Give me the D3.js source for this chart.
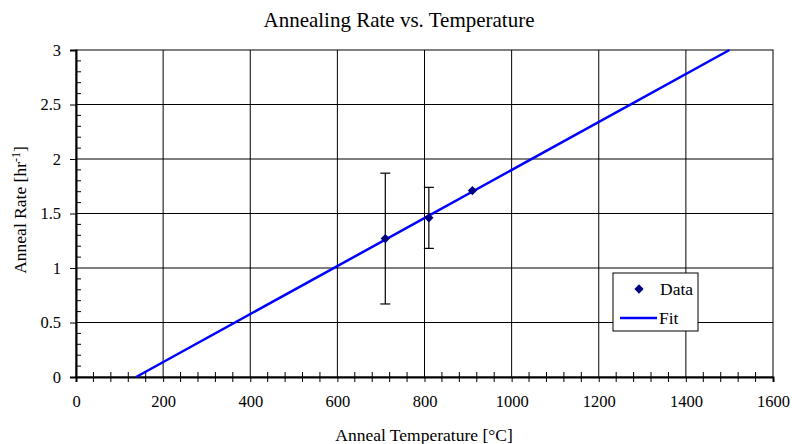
<!DOCTYPE html>
<html>
<head>
<meta charset="utf-8">
<script src="https://cdn.jsdelivr.net/npm/d3@7"></script>
<style>
  body { margin: 0; background: #fff; }
  svg { font-family: "Liberation Serif", "Times New Roman", serif; }
</style>
</head>
<body>
<svg id="chart"></svg>
<script>
// Data
const dataTemp = [710, 810, 910];
const dataRate = [1.27, 1.46, 1.71];
const errLow = [0.67, 1.18, null];
const errHigh = [1.87, 1.74, null];

const fitTemp = [138, 1500];
const fitRate = [0, 3];

const xTicks = [0, 200, 400, 600, 800, 1000, 1200, 1400, 1600];
const yTicks = [0, 0.5, 1, 1.5, 2, 2.5, 3];

const width = 792;
const height = 444;
const margin = { top: 50, right: 19, bottom: 67, left: 76 };
const chartWidth = width - margin.left - margin.right;
const chartHeight = height - margin.top - margin.bottom;

const svg = d3.select("#chart").attr("width", width).attr("height", height);

const chart = svg.append("g")
  .attr("transform", `translate(${margin.left},${margin.top})`);

const x = d3.scaleLinear().domain([0, 1600]).range([0, chartWidth]);
const y = d3.scaleLinear().domain([0, 3]).range([chartHeight, 0]);

// Gridlines
chart.append("g")
  .selectAll("line")
  .data(xTicks.slice(1, -1))
  .join("line")
  .attr("x1", d => x(d)).attr("x2", d => x(d))
  .attr("y1", 0).attr("y2", chartHeight)
  .attr("stroke", "#000").attr("stroke-width", 1);

chart.append("g")
  .selectAll("line")
  .data(yTicks.slice(1, -1))
  .join("line")
  .attr("x1", 0).attr("x2", chartWidth)
  .attr("y1", d => y(d)).attr("y2", d => y(d))
  .attr("stroke", "#000").attr("stroke-width", 1);

// Plot frame
chart.append("rect")
  .attr("x", 0).attr("y", 0)
  .attr("width", chartWidth).attr("height", chartHeight)
  .attr("fill", "none").attr("stroke", "#000").attr("stroke-width", 1);

// Minor ticks
const xMinor = d3.range(0, 1601, 40).filter(v => v % 200 !== 0);
chart.append("g")
  .selectAll("line")
  .data(xMinor)
  .join("line")
  .attr("x1", d => x(d)).attr("x2", d => x(d))
  .attr("y1", chartHeight - 5).attr("y2", chartHeight + 5)
  .attr("stroke", "#000");

const yMinor = d3.range(0, 31).map(v => v / 10).filter(v => Math.round(v * 10) % 5 !== 0);
chart.append("g")
  .selectAll("line")
  .data(yMinor)
  .join("line")
  .attr("x1", 0).attr("x2", 5)
  .attr("y1", d => y(d)).attr("y2", d => y(d))
  .attr("stroke", "#000");

// Axes
const xAxis = chart.append("g")
  .attr("transform", `translate(0,${chartHeight})`)
  .call(d3.axisBottom(x).tickValues(xTicks).tickSize(5).tickPadding(13).tickFormat(d3.format("d")));

const yAxis = chart.append("g")
  .call(d3.axisLeft(y).tickValues(yTicks).tickSize(6).tickPadding(9).tickFormat(d => String(d)));

[xAxis, yAxis].forEach(a => {
  a.select(".domain").attr("stroke", "#000").attr("stroke-width", 2);
  a.selectAll(".tick line").attr("stroke", "#000");
  a.selectAll(".tick text")
    .attr("font-family", "Liberation Serif, Times New Roman, serif")
    .attr("font-size", 16.5).attr("fill", "#000");
});

// Fit line
const line = d3.line()
  .x((d, i) => x(fitTemp[i]))
  .y(d => y(d));

chart.append("path")
  .datum(fitRate)
  .attr("fill", "none")
  .attr("stroke", "#0000ff")
  .attr("stroke-width", 2.5)
  .attr("d", line);

// Error bars
const errIdx = dataTemp.map((d, i) => i).filter(i => errLow[i] !== null);
const eb = chart.append("g").attr("stroke", "#000").attr("stroke-width", 1.2);
eb.selectAll("line.v")
  .data(errIdx).join("line").attr("class", "v")
  .attr("x1", i => x(dataTemp[i])).attr("x2", i => x(dataTemp[i]))
  .attr("y1", i => y(errLow[i])).attr("y2", i => y(errHigh[i]));
eb.selectAll("line.top")
  .data(errIdx).join("line").attr("class", "top")
  .attr("x1", i => x(dataTemp[i]) - 5).attr("x2", i => x(dataTemp[i]) + 5)
  .attr("y1", i => y(errHigh[i])).attr("y2", i => y(errHigh[i]));
eb.selectAll("line.bot")
  .data(errIdx).join("line").attr("class", "bot")
  .attr("x1", i => x(dataTemp[i]) - 5).attr("x2", i => x(dataTemp[i]) + 5)
  .attr("y1", i => y(errLow[i])).attr("y2", i => y(errLow[i]));

// Data points (diamonds)
const diamond = d3.symbol().type(d3.symbolDiamond2).size(55);
chart.append("g")
  .selectAll("path")
  .data(dataTemp)
  .join("path")
  .attr("transform", (d, i) => `translate(${x(d)},${y(dataRate[i])})`)
  .attr("d", diamond)
  .attr("fill", "#000080");

// Legend
const legend = svg.append("g").attr("transform", "translate(613,273)");
legend.append("rect")
  .attr("width", 85).attr("height", 58)
  .attr("fill", "#fff").attr("stroke", "#000").attr("stroke-width", 1);
legend.append("path")
  .attr("transform", "translate(26,16)")
  .attr("d", diamond)
  .attr("fill", "#000080");
legend.append("text")
  .attr("x", 47).attr("y", 22)
  .attr("font-size", 17.5).text("Data");
legend.append("line")
  .attr("x1", 7).attr("x2", 44).attr("y1", 45).attr("y2", 45)
  .attr("stroke", "#0000ff").attr("stroke-width", 2.5);
legend.append("text")
  .attr("x", 46).attr("y", 51)
  .attr("font-size", 17.5).text("Fit");

// Title
svg.append("text")
  .attr("x", 399).attr("y", 27)
  .attr("text-anchor", "middle")
  .attr("font-size", 21)
  .text("Annealing Rate vs. Temperature");

// Axis titles
svg.append("text")
  .attr("x", 424).attr("y", 441)
  .attr("text-anchor", "middle")
  .attr("font-size", 17.5)
  .text("Anneal Temperature [°C]");

const yl = svg.append("text")
  .attr("transform", "translate(26,210) rotate(-90)")
  .attr("text-anchor", "middle")
  .attr("font-size", 17.5);
yl.append("tspan").text("Anneal Rate [hr");
yl.append("tspan").attr("dy", -6).attr("font-size", 12).text("-1");
yl.append("tspan").attr("dy", 6).text("]");
</script>
</body>
</html>
